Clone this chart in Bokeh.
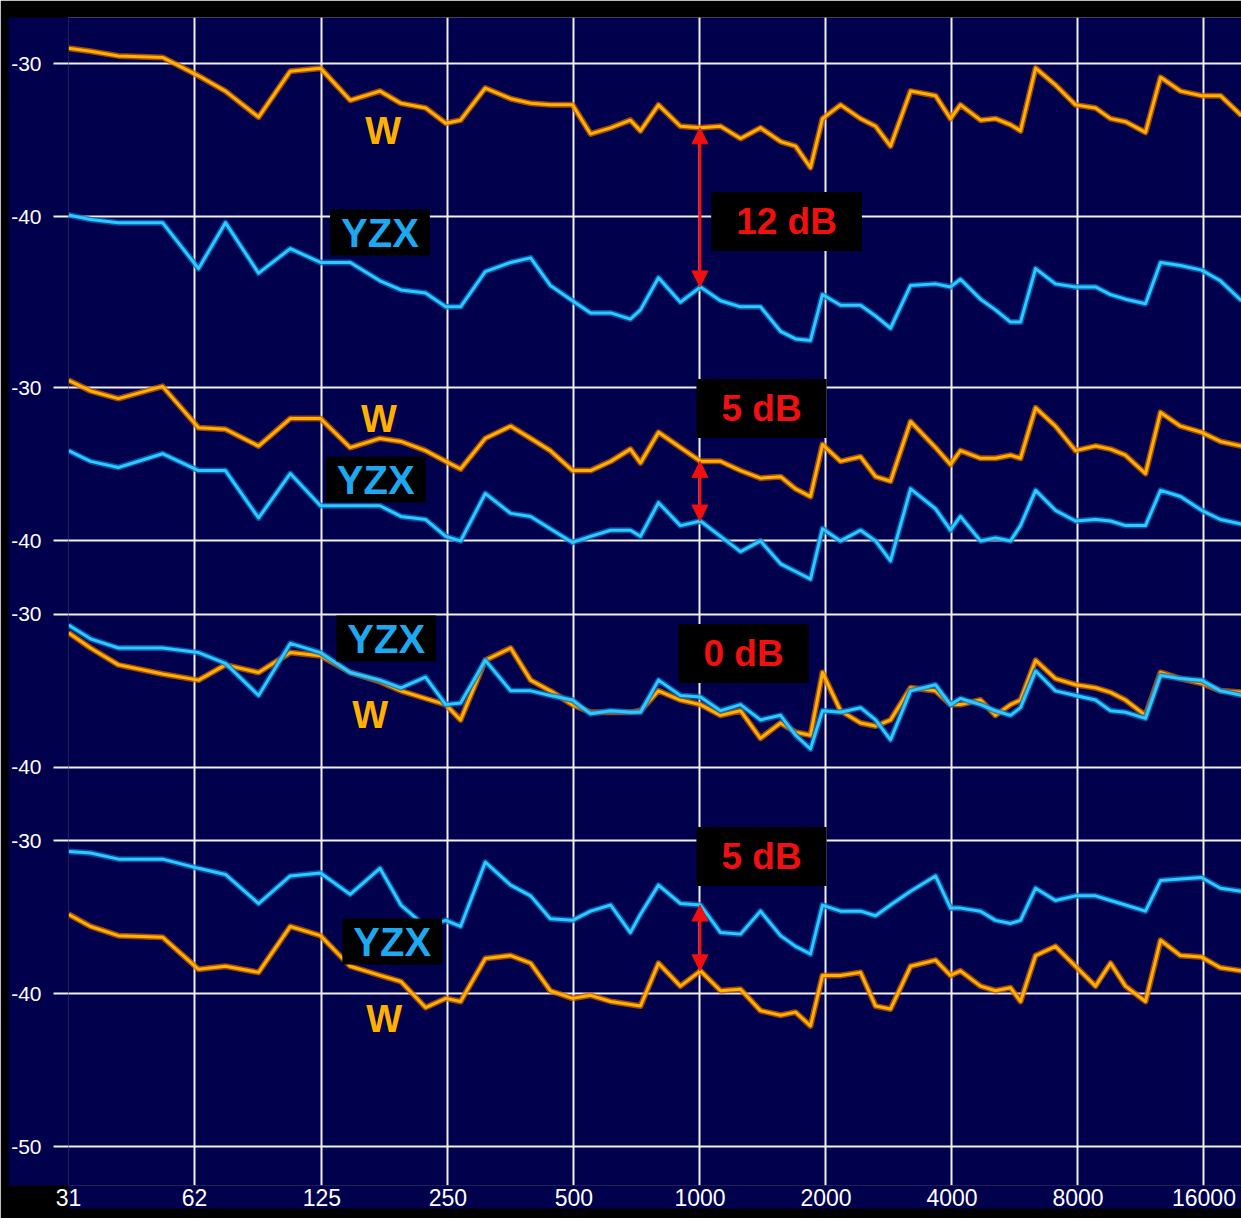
from bokeh.plotting import figure
from bokeh.models import Range1d, FixedTicker, Label, Arrow, NormalHead, ColumnDataSource
from bokeh.embed import file_html
from bokeh.resources import INLINE

# ---------------- data ----------------
freq = [31, 35, 40.8, 52, 63.4, 73.5, 88.2, 105, 124, 146,
        172, 193, 221, 247, 268, 307, 353, 394, 439, 496,
        548, 612, 682, 721, 796, 898, 1003, 1120, 1250, 1395,
        1558, 1692, 1837, 1962, 2167, 2419, 2628, 2853, 3186, 3654,
        3968, 4191, 4681, 5083, 5520, 5833, 6337, 7068, 7893, 8810,
        9570, 10390, 11600, 12600, 14060, 15790, 17520, 19670]

p1_w = [-29.0, -29.2, -29.5, -29.6, -30.8, -31.8, -33.5, -30.5, -30.3, -32.4,
        -31.8, -32.6, -32.9, -33.9, -33.7, -31.6, -32.3, -32.6, -32.7, -32.7,
        -34.6, -34.2, -33.7, -34.4, -32.7, -34.1, -34.2, -34.1, -34.9, -34.2,
        -35.1, -35.4, -36.8, -33.6, -32.7, -33.6, -34.1, -35.4, -31.8, -32.1,
        -33.6, -32.7, -33.7, -33.6, -34.0, -34.4, -30.3, -31.4, -32.7, -32.9,
        -33.6, -33.8, -34.5, -30.9, -31.8, -32.1, -32.1, -33.4]
p1_yzx = [-39.9, -40.2, -40.4, -40.4, -43.4, -40.4, -43.7, -42.1, -43.0, -43.0,
          -44.2, -44.8, -45.0, -45.9, -45.9, -43.6, -43.0, -42.7, -44.5, -45.5,
          -46.3, -46.3, -46.7, -46.1, -44.0, -45.6, -44.6, -45.5, -45.9, -45.9,
          -47.5, -48.0, -48.1, -45.1, -45.8, -45.8, -46.5, -47.3, -44.5, -44.4,
          -44.6, -44.1, -45.4, -46.1, -46.9, -46.9, -43.4, -44.4, -44.6, -44.6,
          -45.1, -45.4, -45.7, -43.0, -43.2, -43.5, -44.2, -45.5]
p2_w = [-29.5, -30.2, -30.7, -29.9, -32.6, -32.7, -33.8, -32.0, -32.0, -33.9,
        -33.3, -33.5, -34.1, -34.8, -35.3, -33.3, -32.5, -33.3, -34.1, -35.4,
        -35.4, -34.8, -34.0, -34.9, -32.9, -33.9, -34.8, -34.8, -35.4, -35.9,
        -35.8, -36.6, -37.1, -33.7, -34.8, -34.5, -35.8, -36.1, -32.2, -33.9,
        -35.0, -34.1, -34.6, -34.6, -34.4, -34.6, -31.3, -32.5, -34.1, -33.8,
        -34.0, -34.4, -35.6, -31.6, -32.5, -32.9, -33.5, -33.8]
p2_yzx = [-34.1, -34.8, -35.2, -34.3, -35.4, -35.4, -38.5, -35.6, -37.7, -37.7,
          -37.7, -38.4, -38.6, -39.7, -40.0, -36.9, -38.2, -38.4, -39.2, -40.1,
          -39.7, -39.3, -39.3, -39.7, -37.5, -39.0, -38.7, -39.7, -40.7, -40.0,
          -41.5, -42.0, -42.5, -39.2, -40.0, -39.3, -40.0, -41.3, -36.6, -37.9,
          -39.3, -38.4, -40.0, -39.8, -40.0, -39.0, -36.7, -38.0, -38.7, -38.6,
          -38.7, -39.0, -39.0, -36.7, -37.1, -38.0, -38.6, -38.9]
p3_w = [-31.2, -32.2, -33.3, -33.9, -34.3, -33.3, -33.8, -32.5, -32.7, -33.8,
        -34.4, -35.0, -35.5, -35.9, -36.9, -33.0, -32.2, -34.3, -35.0, -35.9,
        -36.4, -36.4, -36.4, -36.3, -35.0, -35.6, -35.9, -36.6, -36.3, -38.1,
        -37.1, -37.7, -37.9, -33.8, -36.3, -37.1, -37.3, -36.9, -34.8, -35.0,
        -35.9, -35.9, -35.6, -36.6, -35.9, -35.6, -33.0, -34.2, -34.6, -34.8,
        -35.1, -35.6, -36.6, -33.8, -34.2, -34.5, -35.0, -35.1]
p3_yzx = [-30.7, -31.6, -32.2, -32.2, -32.5, -33.2, -35.3, -31.9, -32.5, -33.8,
          -34.3, -34.8, -34.1, -35.9, -35.8, -33.0, -35.0, -35.0, -35.3, -35.6,
          -36.5, -36.3, -36.4, -36.4, -34.3, -35.3, -35.4, -36.3, -35.9, -36.9,
          -36.6, -37.9, -38.8, -36.3, -36.4, -36.1, -36.9, -38.2, -35.0, -34.6,
          -35.9, -35.5, -35.9, -36.3, -36.6, -36.1, -33.7, -35.0, -35.3, -35.6,
          -36.3, -36.4, -36.8, -34.0, -34.2, -34.3, -35.0, -35.3]
p4_w = [-34.8, -35.6, -36.2, -36.3, -38.4, -38.2, -38.6, -35.6, -36.2, -38.2,
        -38.8, -39.2, -40.9, -40.3, -40.5, -37.7, -37.5, -38.0, -39.8, -40.3,
        -40.1, -40.5, -40.7, -40.8, -38.0, -39.5, -38.5, -39.8, -39.7, -41.1,
        -41.4, -41.2, -42.1, -38.8, -38.8, -38.6, -40.8, -41.0, -38.2, -37.8,
        -38.8, -38.5, -39.5, -39.8, -39.6, -40.5, -37.5, -36.9, -38.2, -39.5,
        -38.0, -39.5, -40.5, -36.5, -37.5, -37.6, -38.3, -38.5]
p4_yzx = [-30.7, -30.8, -31.2, -31.2, -31.8, -32.2, -34.1, -32.3, -32.1, -33.5,
          -31.8, -34.2, -35.6, -35.2, -35.6, -31.4, -32.9, -33.6, -35.1, -35.2,
          -34.6, -34.2, -36.0, -34.8, -32.9, -34.1, -34.2, -36.0, -36.1, -34.6,
          -36.2, -36.9, -37.4, -34.2, -34.6, -34.6, -34.9, -34.2, -33.3, -32.3,
          -34.4, -34.4, -34.6, -35.2, -35.4, -35.2, -33.1, -33.9, -33.6, -33.6,
          -33.9, -34.2, -34.6, -32.6, -32.5, -32.4, -33.1, -33.3]

x_ticks = [31, 62, 125, 250, 500, 1000, 2000, 4000, 8000, 16000]
x_labels = ["31", "62", "125", "250", "500", "1000", "2000", "4000", "8000", "16000"]
panel_levels = [[-30, -40], [-30, -40], [-30, -40], [-30, -40, -50]]
gap_labels = ["12 dB", "5 dB", "0 dB", "5 dB"]
arrow_freq = 1000

# ---------------- layout / style ----------------
panel_offset = [0.0, -21.2, -36.0, -50.8]
NAVY = "#00004c"
W_CORE, W_GLOW = "#ffb000", "#d06000"
Y_CORE, Y_GLOW = "#30c8ff", "#0070c0"
RED = "#f01010"
FONT = "Liberation Sans"

p = figure(width=1241, height=1218, x_axis_type="log",
           x_range=Range1d(31, 19670), y_range=Range1d(-103.33, -26.99),
           output_backend="svg", toolbar_location=None,
           min_border_left=68, min_border_right=0, min_border_top=17, min_border_bottom=33)
p.background_fill_color = NAVY
p.border_fill_color = "black"
p.outline_line_color = None

# x axis / grid
xt = FixedTicker(ticks=x_ticks)
p.xaxis.ticker = xt
p.xgrid.ticker = xt
p.xaxis.major_label_overrides = {t: l for t, l in zip(x_ticks, x_labels)}
p.xaxis.axis_line_color = None
p.xaxis.major_tick_line_color = None
p.xaxis.minor_tick_line_color = None
p.xaxis.major_tick_out = 0
p.xaxis.major_tick_in = 0
p.xaxis.major_label_standoff = 3
p.xaxis.major_label_text_color = "white"
p.xaxis.major_label_text_font = FONT
p.xaxis.major_label_text_font_size = "23px"
p.xaxis.background_fill_color = NAVY

# y axis / grid
y_ticks, y_over = [], {}
for lv, off in zip(panel_levels, panel_offset):
    for v in lv:
        t = v + off
        y_ticks.append(t)
        y_over[t] = str(v)
yt = FixedTicker(ticks=y_ticks)
p.yaxis.ticker = yt
p.ygrid.ticker = yt
p.yaxis.major_label_overrides = y_over
p.yaxis.axis_line_color = None
p.yaxis.minor_tick_line_color = None
p.yaxis.major_tick_in = 0
p.yaxis.major_tick_out = 15
p.yaxis.major_tick_line_color = "#f0f0f0"
p.yaxis.major_tick_line_width = 2
p.yaxis.major_label_standoff = 12
p.yaxis.major_label_text_color = "white"
p.yaxis.major_label_text_font = FONT
p.yaxis.major_label_text_font_size = "21px"
p.yaxis.background_fill_color = NAVY

for g in (p.xgrid, p.ygrid):
    g.grid_line_color = "#f0f0f0"
    g.grid_line_width = 2
    g.grid_line_alpha = 1.0

# curves
panels = [(p1_w, p1_yzx), (p2_w, p2_yzx), (p3_w, p3_yzx), (p4_w, p4_yzx)]
for (w, yzx), off in zip(panels, panel_offset):
    src = ColumnDataSource(dict(f=freq, w=[v + off for v in w], y=[v + off for v in yzx]))
    for col, core, glow in (("w", W_CORE, W_GLOW), ("y", Y_CORE, Y_GLOW)):
        p.line("f", col, source=src, line_color=glow, line_width=6, line_alpha=0.75, line_join="round")
        p.line("f", col, source=src, line_color=core, line_width=3, line_join="round")

# arrows between curves at 1 kHz
ai = min(range(len(freq)), key=lambda i: abs(freq[i] - arrow_freq))
for k, ((w, yzx), off) in enumerate(zip(panels, panel_offset)):
    if k == 2:
        continue
    p.add_layout(Arrow(x_start=arrow_freq, y_start=w[ai] + off, x_end=arrow_freq, y_end=yzx[ai] + off,
                       line_color=RED, line_width=3,
                       start=NormalHead(size=16, fill_color=RED, line_color=RED),
                       end=NormalHead(size=16, fill_color=RED, line_color=RED)))

def lab(x, y, text, color, size, box=False, pad=None):
    kw = dict(x=x, y=y, text=text, text_color=color, text_font=FONT, text_font_style="bold",
              text_font_size=size, text_align="center", text_baseline="middle")
    if box:
        kw["background_fill_color"] = "black"
        kw["padding"] = pad
    p.add_layout(Label(**kw))

# dB gap boxes
gap_pos = [(1610, -40.33), (1403, -52.55), (1271, -68.56), (1403, -81.83)]
for (x, y), t in zip(gap_pos, gap_labels):
    lab(x, y, t, RED, "37px", box=True, pad=dict(left=25, right=25, top=9, bottom=9))

# series labels
yzx_pos = [(172, -41.05), (168, -57.19), (178, -67.58), (184, -87.39)]
w_pos = [(175, -34.44), (171, -53.20), (163, -72.55), (176, -92.48)]
for x, y in yzx_pos:
    lab(x, y, "YZX", "#1ea8f0", "40px", box=True, pad=dict(left=11, right=11, top=1, bottom=1))
for x, y in w_pos:
    lab(x, y, "W", "#ffb000", "38px")

open("out.html", "w").write(file_html(p, INLINE))
